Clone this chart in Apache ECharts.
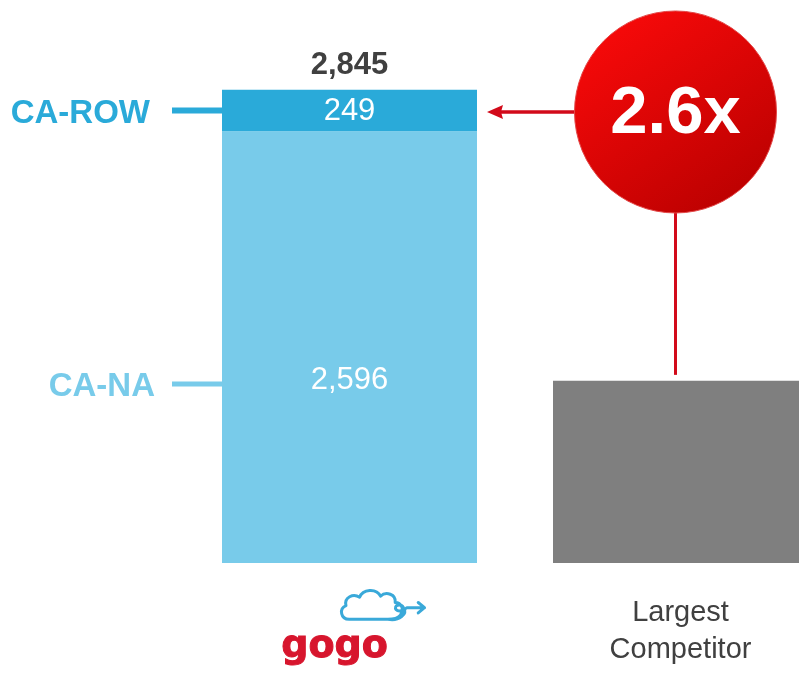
<!DOCTYPE html>
<html>
<head>
<meta charset="utf-8">
<script src="https://cdn.jsdelivr.net/npm/echarts@6/dist/echarts.min.js"></script>
<style>
  html, body { margin: 0; padding: 0; background: #ffffff; }
  #chart { width: 799px; height: 677px; }
</style>
</head>
<body>
<div id="chart"></div>
<script>
// Aircraft counts: Gogo (split by segment) vs. the largest competitor
const categories = ['gogo', 'Largest\nCompetitor'];
const caNa = [2596, null];
const caRow = [249, null];
const competitor = [null, 1095];
const totals = [2845, null];
const segmentLabels = ['CA-ROW', 'CA-NA'];

const COLOR_ROW = '#2aaad9';
const COLOR_NA = '#78cbea';
const COLOR_GREY = '#7f7f7f';
const COLOR_RED = '#d20a1a';
const BAR_WIDTH = 255;
const NA_LABEL_SHIFT = 33;
const SANS = '"Liberation Sans", Arial, sans-serif';

const fmt = v => v.toLocaleString('en-US');

const chart = echarts.init(document.getElementById('chart'), null, { renderer: 'canvas' });

// Segment pointers on the left, the ratio bubble with its connectors, and the Gogo word mark
function renderCallouts(params, api) {
  const half = BAR_WIDTH / 2;
  const rowMid = api.coord([0, caNa[0] + caRow[0] / 2]);
  const naMid = api.coord([0, caNa[0] / 2]);
  const base = api.coord([0, 0]);
  const naY = naMid[1] + NA_LABEL_SHIFT + 4;
  const gogoRight = rowMid[0] + half;
  const gogoLeft = rowMid[0] - half;
  const compTop = api.coord([1, competitor[1]]);
  const ratio = (totals[0] / competitor[1]).toFixed(1) + 'x';

  const cx = compTop[0] - 5;
  const cy = rowMid[1] + 1.5;
  const r = 101;

  return {
    type: 'group',
    children: [
      // CA-ROW pointer
      { type: 'rect', shape: { x: gogoLeft - 50, y: rowMid[1] - 3, width: 50, height: 6 },
        style: { fill: COLOR_ROW } },
      { type: 'text', style: { text: segmentLabels[0], x: gogoLeft - 72, y: rowMid[1] + 3,
        fill: COLOR_ROW, font: 'bold 33px ' + SANS,
        align: 'right', verticalAlign: 'middle', textAlign: 'right', textVerticalAlign: 'middle' } },
      // CA-NA pointer
      { type: 'rect', shape: { x: gogoLeft - 50, y: naY - 2.5, width: 50, height: 5 },
        style: { fill: COLOR_NA } },
      { type: 'text', style: { text: segmentLabels[1], x: gogoLeft - 67, y: naY + 3,
        fill: COLOR_NA, font: 'bold 33px ' + SANS,
        align: 'right', verticalAlign: 'middle', textAlign: 'right', textVerticalAlign: 'middle' } },
      // connector from bubble down to the competitor bar
      { type: 'line', shape: { x1: cx, y1: cy + r, x2: cx, y2: compTop[1] - 6 },
        style: { stroke: COLOR_RED, lineWidth: 3 } },
      // arrow from bubble to the Gogo bar
      { type: 'line', shape: { x1: cx - r, y1: cy, x2: gogoRight + 22, y2: cy },
        style: { stroke: COLOR_RED, lineWidth: 3.5 } },
      { type: 'polygon', shape: { points: [[gogoRight + 10, cy], [gogoRight + 26, cy - 7], [gogoRight + 24, cy], [gogoRight + 26, cy + 7]] },
        style: { fill: COLOR_RED } },
      // ratio bubble
      { type: 'circle', shape: { cx: cx, cy: cy, r: r },
        style: {
          fill: new echarts.graphic.LinearGradient(0.15, 0, 0.85, 1, [
            { offset: 0, color: '#fb0a0a' },
            { offset: 1, color: '#b80000' }
          ]),
          stroke: '#e34848', lineWidth: 1
        } },
      { type: 'text', style: { text: ratio, x: cx, y: cy + 3, fill: '#ffffff',
        font: 'bold 67px ' + SANS,
        align: 'center', verticalAlign: 'middle', textAlign: 'center', textVerticalAlign: 'middle' } },
      // Gogo word mark with its cloud
      { type: 'text', style: { text: 'gogo', x: rowMid[0] - 15, y: base[1] + 84, fill: '#d7152d',
        font: 'bold 38px "DejaVu Sans", sans-serif', stroke: '#d7152d', lineWidth: 1,
        align: 'center', verticalAlign: 'middle', textAlign: 'center', textVerticalAlign: 'middle' } },
      { type: 'path', x: rowMid[0] - 8, y: base[1] + 26,
        shape: {
          pathData: 'M10 30 C2 30 0 20 7 17 C5 9 14 5 20 9 C23 1 36 0 40 8 C45 3 55 6 54 14 C60 14 63 21 59 26 C56 30 51 30 47 30 Z ' +
                    'M47 30 C58 32 66 25 62 19 C59 14 52 17 55 21 C57 23 62 22 65 19 L82 19 M76 14 L82 19 L76 24',
          x: 0, y: 0, width: 83, height: 32
        },
        style: { fill: 'none', stroke: '#3aa9d9', lineWidth: 3, lineJoin: 'round', lineCap: 'round' } }
    ]
  };
}

const option = {
  backgroundColor: '#ffffff',
  animation: false,
  grid: { left: 184, width: 662, top: 64, bottom: 114, containLabel: false, outerBoundsMode: 'none' },
  xAxis: {
    type: 'category',
    data: categories,
    axisLine: { show: false },
    axisTick: { show: false },
    axisLabel: {
      margin: 31,
      interval: 0,
      color: '#404040',
      fontFamily: SANS,
      fontSize: 29,
      lineHeight: 37,
      // the Gogo category is labelled by its word mark, drawn with the callouts
      formatter: v => v === 'gogo' ? '' : v
    }
  },
  yAxis: {
    type: 'value',
    min: 0,
    max: 3000,
    show: false,
    splitLine: { show: false }
  },
  series: [
    {
      name: segmentLabels[1],
      type: 'bar',
      stack: 'gogo',
      barWidth: BAR_WIDTH,
      data: caNa,
      itemStyle: { color: COLOR_NA },
      label: {
        show: true, position: 'inside', offset: [0, NA_LABEL_SHIFT],
        color: '#ffffff', fontSize: 31, fontFamily: SANS,
        formatter: p => fmt(p.value)
      }
    },
    {
      name: segmentLabels[0],
      type: 'bar',
      stack: 'gogo',
      barWidth: BAR_WIDTH,
      data: caRow,
      itemStyle: { color: COLOR_ROW },
      label: {
        show: true, position: 'inside', offset: [0, 1],
        color: '#ffffff', fontSize: 31, fontFamily: SANS,
        formatter: p => fmt(p.value)
      }
    },
    {
      name: 'Competitor',
      type: 'bar',
      stack: 'gogo',
      barWidth: BAR_WIDTH,
      data: competitor,
      itemStyle: { color: COLOR_GREY }
    },
    {
      name: 'Total',
      type: 'scatter',
      symbolSize: 0,
      data: totals,
      itemStyle: { opacity: 1 },
      label: {
        show: true, position: 'top', distance: 9,
        color: '#404040', fontSize: 31, fontWeight: 'bold',
        fontFamily: SANS,
        formatter: p => fmt(p.value)
      },
      emphasis: { disabled: true }
    },
    {
      name: 'Callouts',
      type: 'custom',
      clip: false,
      silent: true,
      data: [0],
      renderItem: renderCallouts
    }
  ]
};

chart.setOption(option);
</script>
</body>
</html>
